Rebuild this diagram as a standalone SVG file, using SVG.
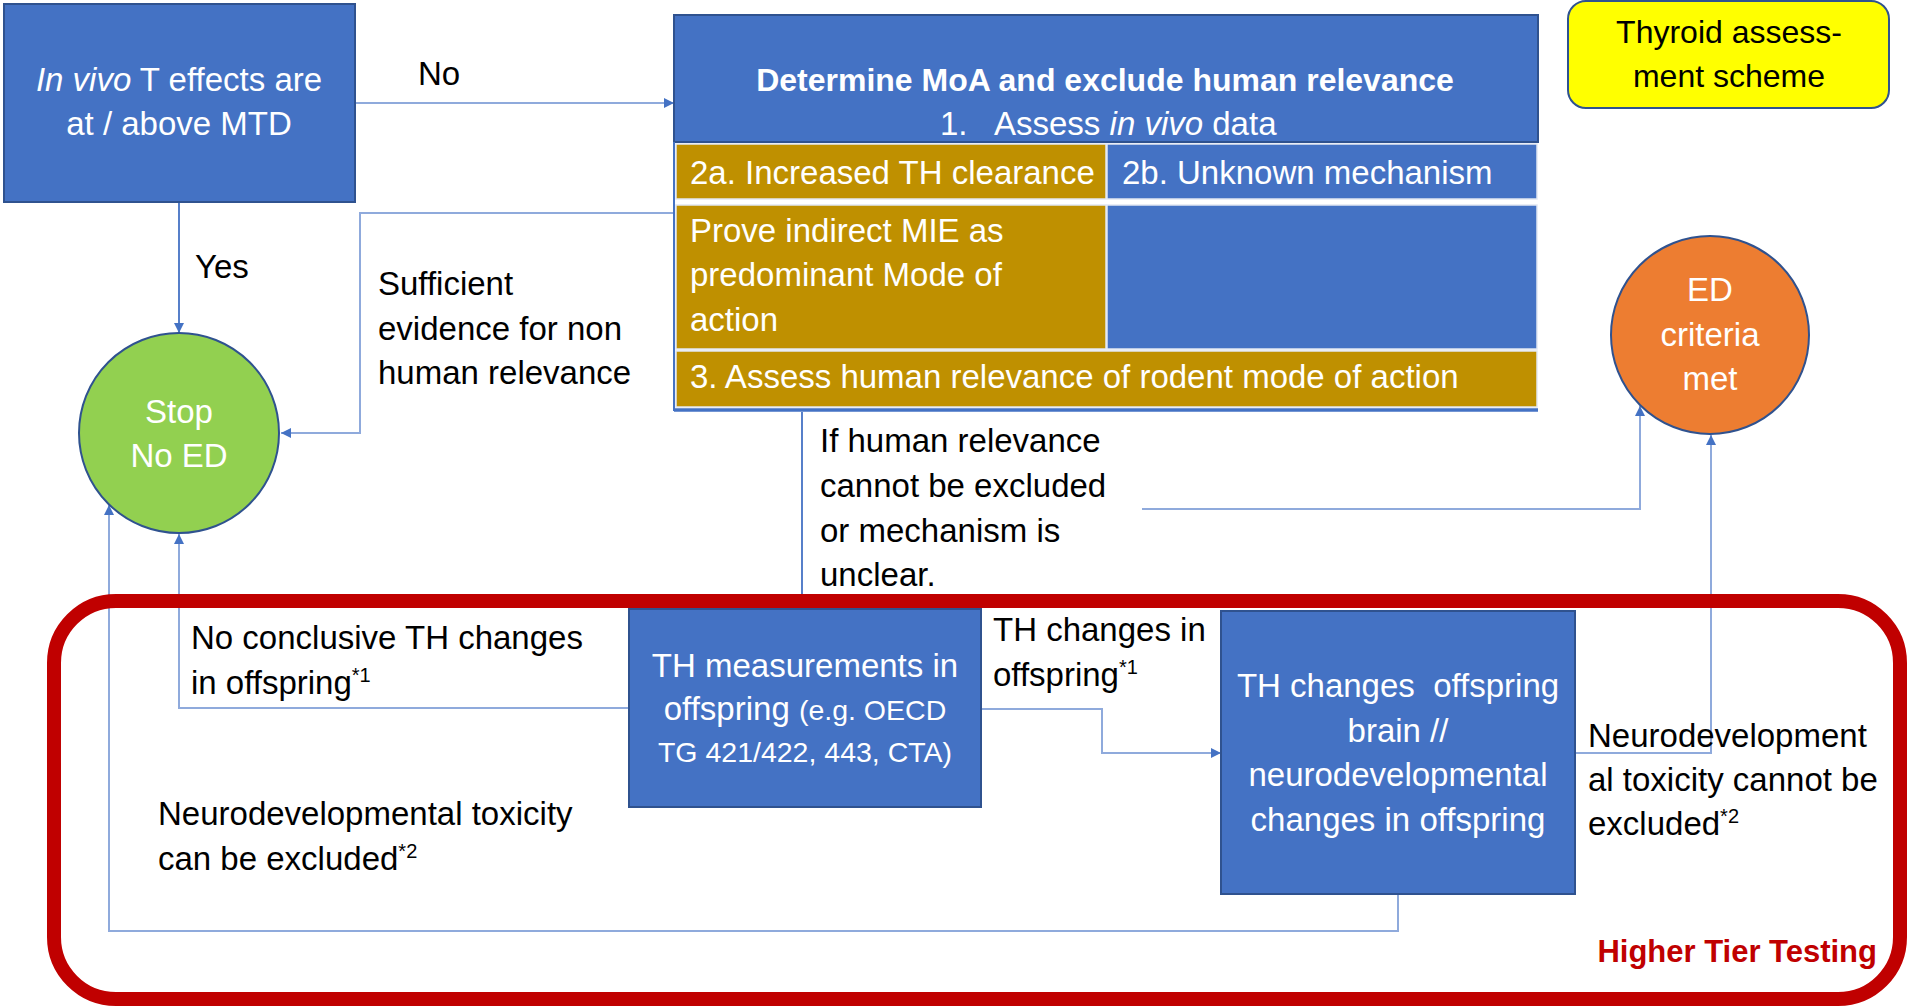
<svg xmlns="http://www.w3.org/2000/svg" width="1911" height="1008" viewBox="0 0 1911 1008">
<style>
text{font-family:"Liberation Sans",Arial,sans-serif;font-size:33px}
.w{fill:#fff}
.k{fill:#000}
.m{text-anchor:middle}
.blue{fill:#4472C4;stroke:#2F528F;stroke-width:2}
.gold{fill:#BF9000;stroke:#E2E8F2;stroke-width:1.5}
.cell{fill:#4472C4;stroke:#E2E8F2;stroke-width:1.5}
.c1{fill:none;stroke:#4472C4;stroke-width:1.8}
.c2{fill:none;stroke:#8FAADC;stroke-width:2}
.sup{font-size:20px}
</style>
<defs>
<marker id="ah" viewBox="0 0 10 10" refX="10" refY="5" markerWidth="11" markerHeight="10" markerUnits="userSpaceOnUse" orient="auto">
<path d="M0,0 L10,5 L0,10 z" fill="#4472C4"/>
</marker>
</defs>
<rect width="1911" height="1008" fill="#fff"/>

<g id="connectors">
<path class="c2" d="M355,103 H674" marker-end="url(#ah)"/>
<path class="c1" d="M179,202 V333" marker-end="url(#ah)"/>
<path class="c2" d="M674,213 H360 V433 H281" marker-end="url(#ah)"/>
<path class="c1" d="M802,412 V609"/>
<path class="c2" d="M1142,509 H1640 V406" marker-end="url(#ah)"/>
<path class="c2" d="M981,709 H1102 V753 H1221" marker-end="url(#ah)"/>
<path class="c2" d="M629,708 H179 V534" marker-end="url(#ah)"/>
<path class="c2" d="M1575,753 H1711 V435" marker-end="url(#ah)"/>
<path class="c2" d="M1398,894 V931 H109 V505" marker-end="url(#ah)"/>
</g>

<g id="n-higher-tier">
<rect x="54" y="601" width="1846" height="398" rx="62" fill="none" stroke="#C00000" stroke-width="14"/>
<text x="1877" y="962" text-anchor="end" font-weight="bold" style="font-size:31px" fill="#C00000">Higher Tier Testing</text>
</g>

<g id="labels">
<text class="k" x="418" y="85">No</text>
<text class="k" x="195" y="278">Yes</text>
<text class="k" x="378" y="295">Sufficient</text>
<text class="k" x="378" y="340">evidence for non</text>
<text class="k" x="378" y="384">human relevance</text>
<text class="k" x="820" y="452">If human relevance</text>
<text class="k" x="820" y="497">cannot be excluded</text>
<text class="k" x="820" y="542">or mechanism is</text>
<text class="k" x="820" y="586">unclear.</text>
<text class="k" x="191" y="649">No conclusive TH changes</text>
<text class="k" x="191" y="694">in offspring<tspan class="sup" dy="-12">*1</tspan></text>
<text class="k" x="993" y="641">TH changes in</text>
<text class="k" x="993" y="686">offspring<tspan class="sup" dy="-12">*1</tspan></text>
<text class="k" x="158" y="825">Neurodevelopmental toxicity</text>
<text class="k" x="158" y="870">can be excluded<tspan class="sup" dy="-12">*2</tspan></text>
<text class="k" x="1588" y="747">Neurodevelopment</text>
<text class="k" x="1588" y="791">al toxicity cannot be</text>
<text class="k" x="1588" y="835">excluded<tspan class="sup" dy="-12">*2</tspan></text>
</g>

<g id="n-invivo">
<rect class="blue" x="4" y="4" width="351" height="198"/>
<text class="w m" x="179" y="91"><tspan font-style="italic">In vivo</tspan> T effects are</text>
<text class="w m" x="179" y="135">at / above MTD</text>
</g>

<g id="n-moa">
<rect class="blue" x="674" y="15" width="864" height="127"/>
<text class="w m" x="1105" y="91" font-weight="bold" style="font-size:32px">Determine MoA and exclude human relevance</text>
<text class="w" x="940" y="135">1.</text>
<text class="w" x="994" y="135">Assess <tspan font-style="italic">in vivo</tspan> data</text>
<line x1="674" y1="142" x2="674" y2="411" stroke="#4472C4" stroke-width="2"/>
<rect class="gold" x="676" y="144" width="430" height="55"/>
<rect class="cell" x="1107" y="144" width="430" height="55"/>
<text class="w" x="690" y="184">2a. Increased TH clearance</text>
<text class="w" x="1122" y="184">2b. Unknown mechanism</text>
<rect class="gold" x="676" y="205" width="430" height="144"/>
<rect class="cell" x="1107" y="205" width="430" height="144"/>
<text class="w" x="690" y="242">Prove indirect MIE as</text>
<text class="w" x="690" y="286">predominant Mode of</text>
<text class="w" x="690" y="331">action</text>
<rect class="gold" x="676" y="351" width="861" height="56"/>
<text class="w" x="690" y="388">3. Assess human relevance of rodent mode of action</text>
<line x1="674" y1="410" x2="1538" y2="410" stroke="#4472C4" stroke-width="3.5"/>
</g>

<g id="n-title">
<rect x="1568" y="1" width="321" height="107" rx="18" fill="#FFFF00" stroke="#2F528F" stroke-width="2"/>
<text class="k m" x="1729" y="43" style="font-size:32px">Thyroid assess-</text>
<text class="k m" x="1729" y="87" style="font-size:32px">ment scheme</text>
</g>

<g id="n-stop">
<circle cx="179" cy="433" r="100" fill="#92D050" stroke="#2F528F" stroke-width="2"/>
<text class="w m" x="179" y="423">Stop</text>
<text class="w m" x="179" y="467">No ED</text>
</g>

<g id="n-ed">
<circle cx="1710" cy="335" r="99" fill="#ED7D31" stroke="#2F528F" stroke-width="2"/>
<text class="w m" x="1710" y="301">ED</text>
<text class="w m" x="1710" y="346">criteria</text>
<text class="w m" x="1710" y="390">met</text>
</g>

<g id="n-thmeas">
<rect class="blue" x="629" y="609" width="352" height="198"/>
<text class="w m" x="805" y="677">TH measurements in</text>
<text class="w m" x="805" y="720">offspring <tspan style="font-size:28.5px">(e.g. OECD</tspan></text>
<text class="w m" x="805" y="762" style="font-size:28.5px">TG 421/422, 443, CTA)</text>
</g>

<g id="n-thchanges">
<rect class="blue" x="1221" y="611" width="354" height="283"/>
<text class="w m" x="1398" y="697" xml:space="preserve">TH changes  offspring</text>
<text class="w m" x="1398" y="742">brain //</text>
<text class="w m" x="1398" y="786">neurodevelopmental</text>
<text class="w m" x="1398" y="831">changes in offspring</text>
</g>
</svg>
